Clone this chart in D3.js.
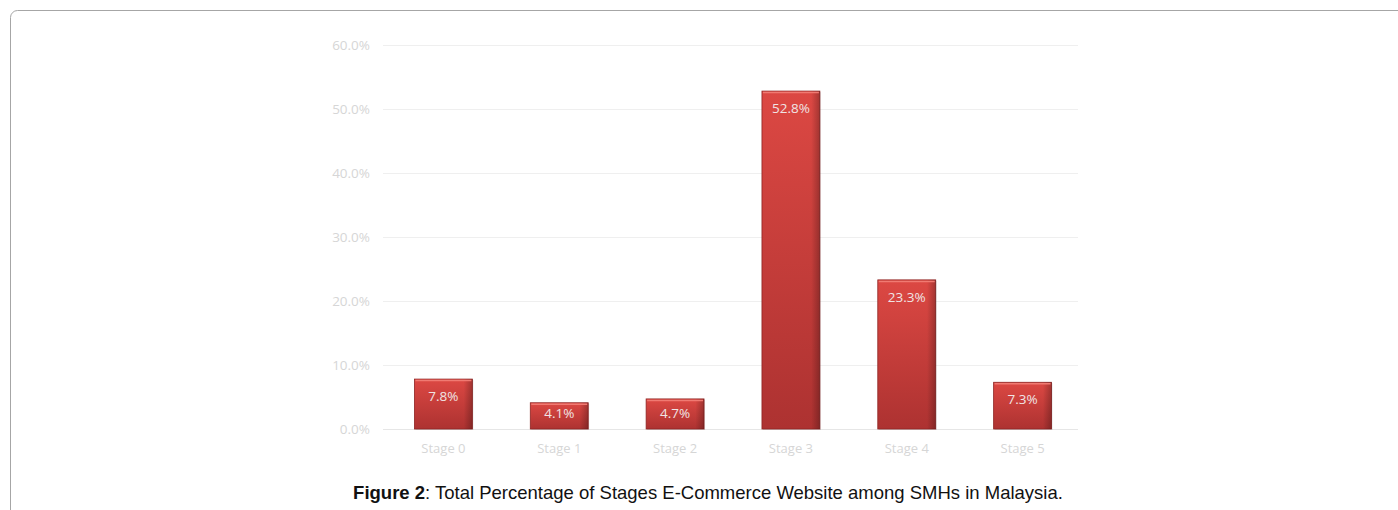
<!DOCTYPE html>
<html>
<head>
<meta charset="utf-8">
<script src="https://cdn.jsdelivr.net/npm/d3@7"></script>
<style>
  body { margin: 0; background: #fff; }
  svg { display: block; }
</style>
</head>
<body>
<div id="vis"></div>
<script>
var width = 1398,
    height = 510;

var stages = ["Stage 0", "Stage 1", "Stage 2", "Stage 3", "Stage 4", "Stage 5"];
var percents = [7.8, 4.1, 4.7, 52.8, 23.3, 7.3];
var yTicks = [0, 10, 20, 30, 40, 50, 60];

var margin = {left: 383, right: 320, top: 45, bottom: 81};

var svg = d3.select("#vis").append("svg")
    .attr("width", width)
    .attr("height", height);

// outer frame (runs off the right and bottom)
svg.append("rect")
    .attr("x", 10.5).attr("y", 10.5)
    .attr("width", 1420).attr("height", 540)
    .attr("rx", 7)
    .attr("fill", "none")
    .attr("stroke", "#a6a6a6")
    .attr("stroke-width", 1);

var defs = svg.append("defs");
var grad = defs.append("linearGradient")
    .attr("id", "barFill")
    .attr("x1", 0).attr("y1", 0).attr("x2", 0).attr("y2", 1);
grad.append("stop").attr("offset", "0%").attr("stop-color", "#dc4843");
grad.append("stop").attr("offset", "100%").attr("stop-color", "#ad3231");

var side = defs.append("linearGradient")
    .attr("id", "barSide")
    .attr("x1", 0).attr("y1", 0).attr("x2", 1).attr("y2", 0);
side.append("stop").attr("offset", "0%").attr("stop-color", "#000").attr("stop-opacity", 0.0);
side.append("stop").attr("offset", "85%").attr("stop-color", "#000").attr("stop-opacity", 0.0);
side.append("stop").attr("offset", "100%").attr("stop-color", "#000").attr("stop-opacity", 0.25);

var x = d3.scaleBand()
    .domain(stages)
    .range([margin.left + 2.5, width - margin.right + 2.5])
    .paddingInner(0.5)
    .paddingOuter(0.25);

var y = d3.scaleLinear()
    .domain([0, 60])
    .range([height - margin.bottom, margin.top]);

// gridlines
svg.append("g")
  .selectAll("line")
  .data(yTicks)
  .enter().append("line")
    .attr("x1", margin.left)
    .attr("x2", width - margin.right)
    .attr("y1", function(d) { return Math.round(y(d)) + 0.5; })
    .attr("y2", function(d) { return Math.round(y(d)) + 0.5; })
    .attr("stroke", function(d) { return d === 0 ? "#e6e6e6" : "#efefef"; })
    .attr("stroke-width", 1);

// y axis labels
var yAxis = d3.axisLeft(y)
    .tickValues(yTicks)
    .tickSize(0)
    .tickPadding(13)
    .tickFormat(function(d) { return d.toFixed(1) + "%"; });

svg.append("g")
    .attr("transform", "translate(" + margin.left + ",0)")
    .call(yAxis)
    .call(function(g) { g.select(".domain").remove(); })
    .selectAll("text")
    .attr("fill", "#d6d6d6")
    .style("font-family", "'Open Sans', sans-serif")
    .style("font-size", "13.5px");

// x axis labels
var xAxis = d3.axisBottom(x).tickSize(0).tickPadding(15);
svg.append("g")
    .attr("transform", "translate(0," + y(0) + ")")
    .call(xAxis)
    .call(function(g) { g.select(".domain").remove(); })
    .selectAll("text")
    .attr("fill", "#d6d6d6")
    .style("font-family", "'Open Sans', sans-serif")
    .style("font-size", "13px");

// bars
var bars = svg.append("g").selectAll("g.bar")
    .data(stages)
    .enter().append("g")
    .attr("class", "bar");

// shadow
bars.append("rect")
    .attr("x", function(d) { return x(d) + 1; })
    .attr("y", function(d, i) { return y(percents[i]) + 1; })
    .attr("width", x.bandwidth())
    .attr("height", function(d, i) { return y(0) - y(percents[i]); })
    .attr("fill", "#000")
    .attr("opacity", 0.12);

bars.append("rect")
    .attr("x", function(d) { return x(d); })
    .attr("y", function(d, i) { return y(percents[i]); })
    .attr("width", x.bandwidth())
    .attr("height", function(d, i) { return y(0) - y(percents[i]); })
    .attr("fill", "url(#barFill)")
    .attr("stroke", "#8e2423")
    .attr("stroke-width", 0.8);

bars.append("rect")
    .attr("x", function(d) { return x(d); })
    .attr("y", function(d, i) { return y(percents[i]); })
    .attr("width", x.bandwidth())
    .attr("height", function(d, i) { return y(0) - y(percents[i]); })
    .attr("fill", "url(#barSide)");

// bevel highlight on top
bars.append("line")
    .attr("x1", function(d) { return x(d) + 1; })
    .attr("x2", function(d) { return x(d) + x.bandwidth() - 1; })
    .attr("y1", function(d, i) { return y(percents[i]) + 1.5; })
    .attr("y2", function(d, i) { return y(percents[i]) + 1.5; })
    .attr("stroke", "#f07a72")
    .attr("stroke-width", 1.5);

// value labels (inside end, kept inside short bars)
bars.append("text")
    .attr("x", function(d) { return x(d) + x.bandwidth() / 2; })
    .attr("y", function(d, i) { return Math.min(y(percents[i]) + 22, y(0) - 11.5); })
    .attr("text-anchor", "middle")
    .attr("fill", "#f0e4e4")
    .style("font-family", "'Open Sans', sans-serif")
    .style("font-size", "13.5px")
    .text(function(d, i) { return percents[i].toFixed(1) + "%"; });

// caption
var cap = svg.append("text")
    .attr("x", 708)
    .attr("y", 499)
    .attr("text-anchor", "middle")
    .attr("fill", "#111")
    .style("font-family", "'Liberation Sans', Arial, sans-serif")
    .style("font-size", "18.5px");
cap.append("tspan").attr("font-weight", "bold").text("Figure 2");
cap.append("tspan").text(": Total Percentage of Stages E-Commerce Website among SMHs in Malaysia.");
</script>
</body>
</html>
